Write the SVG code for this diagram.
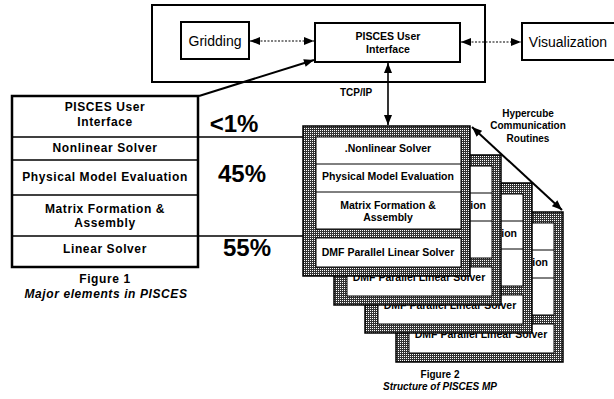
<svg xmlns="http://www.w3.org/2000/svg" width="614" height="399" viewBox="0 0 614 399">
<style>
.box{fill:#fff;stroke:#000;stroke-width:2}
.tt{font-family:"Liberation Sans",Arial,sans-serif;font-weight:bold;font-size:12px;letter-spacing:0.6px;text-anchor:middle;fill:#000}
.ft{font-family:"Liberation Sans",Arial,sans-serif;font-weight:bold;font-size:10.5px;text-anchor:middle;fill:#000}
.fe{font-family:"Liberation Sans",Arial,sans-serif;font-weight:bold;font-size:10.5px;text-anchor:end;fill:#000}
.rg{font-family:"Liberation Sans",Arial,sans-serif;font-size:14px;text-anchor:middle;fill:#000}
.pc{font-family:"Liberation Sans",Arial,sans-serif;font-weight:bold;font-size:24px;text-anchor:middle;fill:#000}
.sm{font-family:"Liberation Sans",Arial,sans-serif;font-weight:bold;font-size:10px;text-anchor:middle;fill:#000}
.it{font-style:italic}
.fr{fill:url(#tone);stroke:#000;stroke-width:1.5}
.cell{fill:#fff;stroke:#000;stroke-width:1}
.ln{stroke:#000;fill:none}
</style>
<defs>
<pattern id="tone" width="2" height="2" patternUnits="userSpaceOnUse">
<rect width="2" height="2" fill="#333"/>
<rect width="1" height="1" fill="#fff"/>
</pattern>
<marker id="ah" viewBox="0 0 10 8" refX="10" refY="4" markerWidth="11" markerHeight="8" markerUnits="userSpaceOnUse" orient="auto-start-reverse">
<path d="M0,0 L10,4 L0,8 z" fill="#000"/>
</marker>
</defs>

<g id="workstation">
<rect x="152" y="5" width="333" height="77" fill="none" stroke="#000" stroke-width="2"/>
</g>
<g id="gridding">
<rect class="box" x="181" y="22" width="68" height="37"/>
<text class="rg" x="215" y="46">Gridding</text>
</g>
<g id="pisces-ui-top">
<rect class="box" x="315" y="23" width="145" height="39"/>
<text class="ft" x="388" y="40">PISCES User</text>
<text class="ft" x="388" y="53">Interface</text>
</g>
<g id="visualization">
<rect class="box" x="522" y="23" width="96" height="37"/>
<text class="rg" x="568" y="47">Visualization</text>
</g>

<g id="figure1-table">
<rect x="12" y="96" width="186" height="171" fill="#fff" stroke="#000" stroke-width="2.5"/>
<line class="ln" x1="12" y1="137" x2="198" y2="137" stroke-width="1.5"/>
<line class="ln" x1="12" y1="160" x2="198" y2="160" stroke-width="1.5"/>
<line class="ln" x1="12" y1="195" x2="198" y2="195" stroke-width="1.5"/>
<line class="ln" x1="12" y1="236" x2="198" y2="236" stroke-width="1.5"/>
<text class="tt" x="105" y="111">PISCES User</text>
<text class="tt" x="105" y="126">Interface</text>
<text class="tt" x="105" y="152">Nonlinear Solver</text>
<text class="tt" x="105" y="181">Physical Model Evaluation</text>
<text class="tt" x="105" y="213">Matrix Formation &amp;</text>
<text class="tt" x="105" y="227">Assembly</text>
<text class="tt" x="105" y="253">Linear Solver</text>
</g>
<g id="figure1-caption">
<text class="tt" x="105" y="283">Figure 1</text>
<text class="tt it" x="106" y="298">Major elements in PISCES</text>
</g>
<g id="percentages">
<text class="pc" x="234" y="132">&lt;1%</text>
<text class="pc" x="242" y="182">45%</text>
<text class="pc" x="247" y="256">55%</text>
</g>

<g id="node-3">
<rect class="fr" x="396" y="212" width="167" height="150"/>
<rect class="cell" x="409" y="223" width="145" height="92"/>
<line class="ln" x1="409" y1="250" x2="554" y2="250"/>
<line class="ln" x1="409" y1="278" x2="554" y2="278"/>
<rect class="cell" x="409" y="324" width="145" height="29"/>
<text class="fe" x="548" y="266">ion</text>
<text class="ft" x="481" y="338">DMF Parallel Linear Solver</text>
</g>
<g id="node-2">
<rect class="fr" x="365" y="183" width="167" height="150"/>
<rect class="cell" x="378" y="194" width="145" height="92"/>
<line class="ln" x1="378" y1="221" x2="523" y2="221"/>
<line class="ln" x1="378" y1="249" x2="523" y2="249"/>
<rect class="cell" x="378" y="295" width="145" height="29"/>
<text class="fe" x="517" y="237">ion</text>
<text class="ft" x="450" y="309">DMF Parallel Linear Solver</text>
</g>
<g id="node-1">
<rect class="fr" x="334" y="155" width="167" height="150"/>
<rect class="cell" x="347" y="166" width="145" height="92"/>
<line class="ln" x1="347" y1="193" x2="492" y2="193"/>
<line class="ln" x1="347" y1="221" x2="492" y2="221"/>
<rect class="cell" x="347" y="267" width="145" height="29"/>
<text class="fe" x="486" y="209">ion</text>
<text class="ft" x="419" y="281">DMF Parallel Linear Solver</text>
</g>
<g id="node-0">
<rect class="fr" x="303" y="126" width="167" height="150"/>
<rect class="cell" x="316" y="137" width="145" height="92"/>
<line class="ln" x1="316" y1="164" x2="461" y2="164"/>
<line class="ln" x1="316" y1="192" x2="461" y2="192"/>
<rect class="cell" x="316" y="238" width="145" height="29"/>
<text class="ft" x="388" y="152">.Nonlinear Solver</text>
<text class="ft" x="388" y="180">Physical Model Evaluation</text>
<text class="ft" x="388" y="209">Matrix Formation &amp;</text>
<text class="ft" x="388" y="221">Assembly</text>
<text class="ft" x="388" y="256">DMF Parallel Linear Solver</text>
</g>
<g id="figure2-caption">
<text class="sm" x="440" y="378">Figure 2</text>
<text class="sm it" x="440" y="390">Structure of PISCES MP</text>
</g>
<g id="labels">
<text class="sm" x="356" y="96">TCP/IP</text>
<text class="sm" x="528" y="117">Hypercube</text>
<text class="sm" x="528" y="129">Communication</text>
<text class="sm" x="528" y="142">Routines</text>
</g>

<g id="connectors">
<line class="ln" x1="250" y1="41" x2="314" y2="41" stroke-width="1.2" stroke-dasharray="2 1.5" marker-start="url(#ah)" marker-end="url(#ah)"/>
<line class="ln" x1="461" y1="42" x2="521" y2="42" stroke-width="1.2" stroke-dasharray="2 1.5" marker-start="url(#ah)" marker-end="url(#ah)"/>
<line class="ln" x1="388" y1="63" x2="388" y2="125" stroke-width="1.6" marker-start="url(#ah)" marker-end="url(#ah)"/>
<line class="ln" x1="199" y1="96" x2="314" y2="60" stroke-width="2" marker-end="url(#ah)"/>
<line class="ln" x1="198" y1="137" x2="303" y2="137" stroke-width="1.5"/>
<line class="ln" x1="198" y1="236" x2="303" y2="236" stroke-width="1.5"/>
<line class="ln" x1="472" y1="127" x2="562" y2="210" stroke-width="2" marker-start="url(#ah)" marker-end="url(#ah)"/>
</g>
</svg>
